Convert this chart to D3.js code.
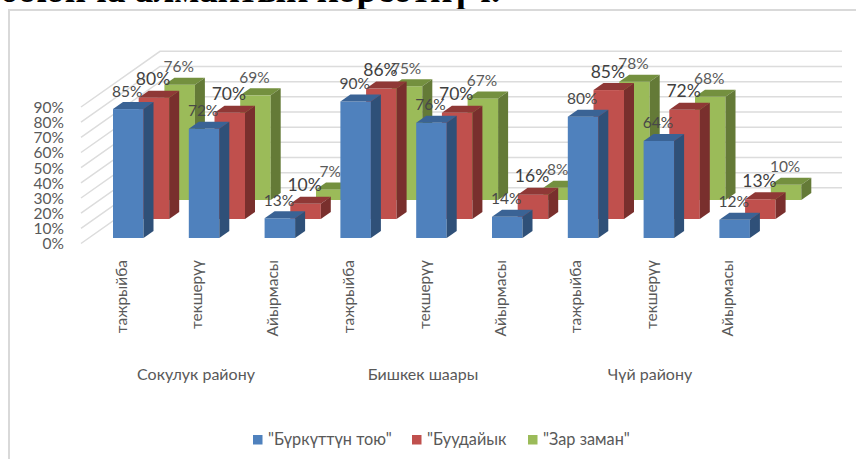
<!DOCTYPE html>
<html>
<head>
<meta charset="utf-8">
<script src="https://cdnjs.cloudflare.com/ajax/libs/d3/7.8.5/d3.min.js"></script>
<style>
  html, body { margin: 0; padding: 0; background: #fff; overflow: hidden; }
  svg { display: block; }
  text { font-family: Lato, "Noto Sans", sans-serif; }
</style>
</head>
<body>
<svg id="chart" width="856" height="459"></svg>
<script>
// values
const categories = ['тажрыйба', 'текшерүү', 'Айырмасы', 'тажрыйба', 'текшерүү', 'Айырмасы', 'тажрыйба', 'текшерүү', 'Айырмасы'];
const groups = ['Сокулук району', 'Бишкек шаары', 'Чүй району'];
const seriesNames = ['"Бүркүттүн тою"', '"Буудайык', '"Зар заман"'];
const burkut = [85, 72, 13, 90, 76, 14, 80, 64, 12];
const buudai = [80, 70, 10, 86, 70, 16, 85, 72, 13];
const zarZaman = [76, 69, 7, 75, 67, 8, 78, 68, 10];
const yTicks = [0, 10, 20, 30, 40, 50, 60, 70, 80, 90];
const titleText = 'боюнча алмактык көрсөткүч.';

const seriesValues = [burkut, buudai, zarZaman];
const frontColor = ['#4f81bd', '#c0504d', '#9bbb59'];
const topColor = ['#3a6395', '#8f3836', '#74903f'];
const sideColor = ['#2f5078', '#792f2d', '#647a37'];
const labelColor = ['#484848', '#404040', '#5a5a5a'];
const labelSize = [15.5, 17.5, 15.5];

const svg = d3.select('#chart');
const barWidth = 30.5, depthX = 10, depthY = 7;

// scales
const y = d3.scaleLinear().domain([0, 90]).range([0, 136.5]);
const slot = d3.scaleBand().domain(d3.range(categories.length)).range([113, 795.2]);
const seriesX = d3.scalePoint().domain([0, 1, 2]).range([0, 51.4]);
const seriesBase = d3.scalePoint().domain([0, 1, 2]).range([238, 200]);
const groupX = d3.scalePoint().domain(groups).range([196, 650]);

// title, mostly cut off by the top of the picture
svg.append('text')
    .attr('x', 0)
    .attr('y', 1.5)
    .style('font-family', '"Liberation Serif", serif')
    .style('font-weight', 'bold')
    .style('font-size', '37px')
    .attr('fill', '#000')
    .text(titleText);

// chart frame runs past the right and bottom edges
svg.append('rect')
    .attr('x', 9)
    .attr('y', 10)
    .attr('width', 900)
    .attr('height', 500)
    .attr('fill', '#fff')
    .attr('stroke', '#d9d9d9')
    .attr('stroke-width', 2);

// back wall and side wall lines
svg.append('g')
    .selectAll('polyline')
    .data(yTicks)
    .enter().append('polyline')
    .attr('points', d => [[81, 243.5 - y(d)], [160, 187.8 - y(d)], [842, 187.8 - y(d)]].join(' '))
    .attr('fill', 'none')
    .attr('stroke', '#dcdcdc')
    .attr('stroke-width', 1.5);

// y axis
const yAxis = d3.axisLeft(d3.scaleLinear().domain([0, 90]).range([136.5, 0]))
    .tickValues(yTicks)
    .tickSize(0)
    .tickPadding(0)
    .tickFormat(d => d + '%');
const axisG = svg.append('g')
    .attr('transform', 'translate(64,107.5)')
    .call(yAxis);
axisG.select('.domain').remove();
axisG.selectAll('text')
    .style('font-size', '15.5px')
    .style('font-family', 'Lato, "Noto Sans", sans-serif')
    .attr('fill', '#595959');

// bars, back row first so the front rows cover it
[2, 1, 0].forEach(s => {
    const values = seriesValues[s];
    const left = i => slot(i) + seriesX(s);
    const top = d => seriesBase(s) - y(d);
    const g = svg.append('g').selectAll('g')
        .data(values)
        .enter().append('g');

    g.append('rect')
        .attr('x', (d, i) => left(i))
        .attr('y', d => top(d))
        .attr('width', barWidth)
        .attr('height', d => y(d))
        .attr('fill', frontColor[s]);

    g.append('polygon')
        .attr('points', (d, i) => [
            [left(i), top(d)],
            [left(i) + depthX, top(d) - depthY],
            [left(i) + barWidth + depthX, top(d) - depthY],
            [left(i) + barWidth, top(d)]
        ].join(' '))
        .attr('fill', topColor[s]);

    g.append('polygon')
        .attr('points', (d, i) => [
            [left(i) + barWidth, top(d)],
            [left(i) + barWidth + depthX, top(d) - depthY],
            [left(i) + barWidth + depthX, seriesBase(s) - depthY],
            [left(i) + barWidth, seriesBase(s)]
        ].join(' '))
        .attr('fill', sideColor[s]);
});

// data labels sit on top of all the bars
[2, 1, 0].forEach(s => {
    svg.append('g').selectAll('text')
        .data(seriesValues[s])
        .enter().append('text')
        .attr('x', (d, i) => slot(i) + seriesX(s) + 14.3)
        .attr('y', d => seriesBase(s) - y(d) - 12.5)
        .attr('text-anchor', 'middle')
        .attr('fill', labelColor[s])
        .style('font-size', labelSize[s] + 'px')
        .text(d => d + '%');
});

// rotated category labels
svg.append('g').selectAll('text')
    .data(categories)
    .enter().append('text')
    .attr('transform', (d, i) => `translate(${slot(i) + 13.5},260) rotate(-90)`)
    .attr('text-anchor', 'end')
    .attr('fill', '#595959')
    .style('font-size', '15.5px')
    .text(d => d);

// group labels
svg.append('g').selectAll('text')
    .data(groups)
    .enter().append('text')
    .attr('x', d => groupX(d))
    .attr('y', 380)
    .attr('text-anchor', 'middle')
    .attr('fill', '#595959')
    .style('font-size', '16px')
    .text(d => d);

// legend
const legendX = d3.scaleOrdinal().domain(seriesNames).range([253, 412, 528]);
const legend = svg.append('g').selectAll('g')
    .data(seriesNames)
    .enter().append('g')
    .attr('transform', d => `translate(${legendX(d)},435)`);

legend.append('rect')
    .attr('width', 9.5)
    .attr('height', 9.5)
    .attr('fill', (d, i) => frontColor[i]);

legend.append('text')
    .attr('x', 15)
    .attr('y', 10)
    .attr('fill', '#595959')
    .style('font-size', '16.3px')
    .text(d => d);
</script>
</body>
</html>
